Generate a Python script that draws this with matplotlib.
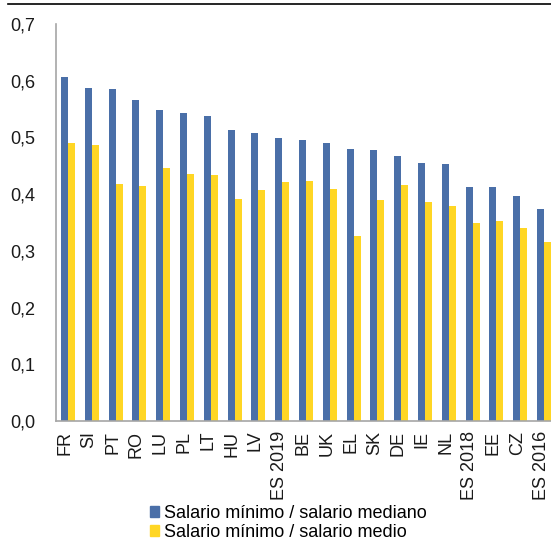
import matplotlib.pyplot as plt
import matplotlib.transforms as mtransforms
import numpy as np
from matplotlib.patches import Patch
from matplotlib.lines import Line2D

plt.rcParams['font.family'] = ['Liberation Sans', 'DejaVu Sans']

paises = ['FR', 'SI', 'PT', 'RO', 'LU', 'PL', 'LT', 'HU', 'LV', 'ES 2019', 'BE',
          'UK', 'EL', 'SK', 'DE', 'IE', 'NL', 'ES 2018', 'EE', 'CZ', 'ES 2016']
ratio_mediano = [0.606, 0.588, 0.585, 0.566, 0.548, 0.543, 0.537, 0.513, 0.507, 0.499, 0.496,
                 0.491, 0.479, 0.477, 0.468, 0.455, 0.454, 0.413, 0.413, 0.397, 0.373]
ratio_medio = [0.490, 0.486, 0.418, 0.414, 0.446, 0.436, 0.434, 0.391, 0.407, 0.421, 0.424,
               0.409, 0.326, 0.390, 0.416, 0.386, 0.379, 0.349, 0.352, 0.341, 0.315]

azul = '#4A6FA8'
amarillo = '#FFD624'

fig = plt.figure(figsize=(5.51, 5.42), dpi=100)
ax = fig.add_axes([56 / 551, 121 / 542, 500 / 551, 397 / 542])

x = np.arange(len(paises))
w = 0.294
ax.bar(x - w / 2, ratio_mediano, w, color=azul, label='Salario mínimo / salario mediano')
ax.bar(x + w / 2, ratio_medio, w, color=amarillo, label='Salario mínimo / salario medio')

ax.set_xlim(-0.5, len(paises) - 0.5)
ax.set_ylim(0, 0.7)
ax.set_yticks(np.arange(0, 0.71, 0.1))
ax.set_yticklabels([f'{v:.1f}'.replace('.', ',') for v in np.arange(0, 0.71, 0.1)])
ax.set_xticks(x)
ax.set_xticklabels(paises, rotation=90)
ax.tick_params(axis='y', length=0, pad=15, labelsize=13, labelcolor='#1a1a1a')
ax.tick_params(axis='x', length=0, pad=7, labelsize=13, labelcolor='#1a1a1a')

# category labels sit a few pixels left of the bar pairs
shift = mtransforms.ScaledTranslation(-3 / 100, 0, fig.dpi_scale_trans)
for lbl in ax.get_xticklabels():
    lbl.set_transform(lbl.get_transform() + shift)

for s in ['top', 'right']:
    ax.spines[s].set_visible(False)
ax.spines['left'].set_color('#A6A6A6')
ax.spines['bottom'].set_color('#A6A6A6')
ax.spines['left'].set_linewidth(1.2)
ax.spines['bottom'].set_linewidth(1.2)

# thin rule across the top of the figure
fig.add_artist(Line2D([8 / 551, 1], [1 - 4 / 542, 1 - 4 / 542], color='black', lw=1.2))

handles = [Patch(color=azul), Patch(color=amarillo)]
fig.legend(handles, ['Salario mínimo / salario mediano', 'Salario mínimo / salario medio'],
           loc='upper left', bbox_to_anchor=(150 / 551, 1 - 505 / 542), frameon=False,
           fontsize=13, handlelength=0.5, handleheight=0.5, handletextpad=0.3,
           labelspacing=0.1, borderpad=0, borderaxespad=0)

fig.savefig('out.png', dpi=100)
